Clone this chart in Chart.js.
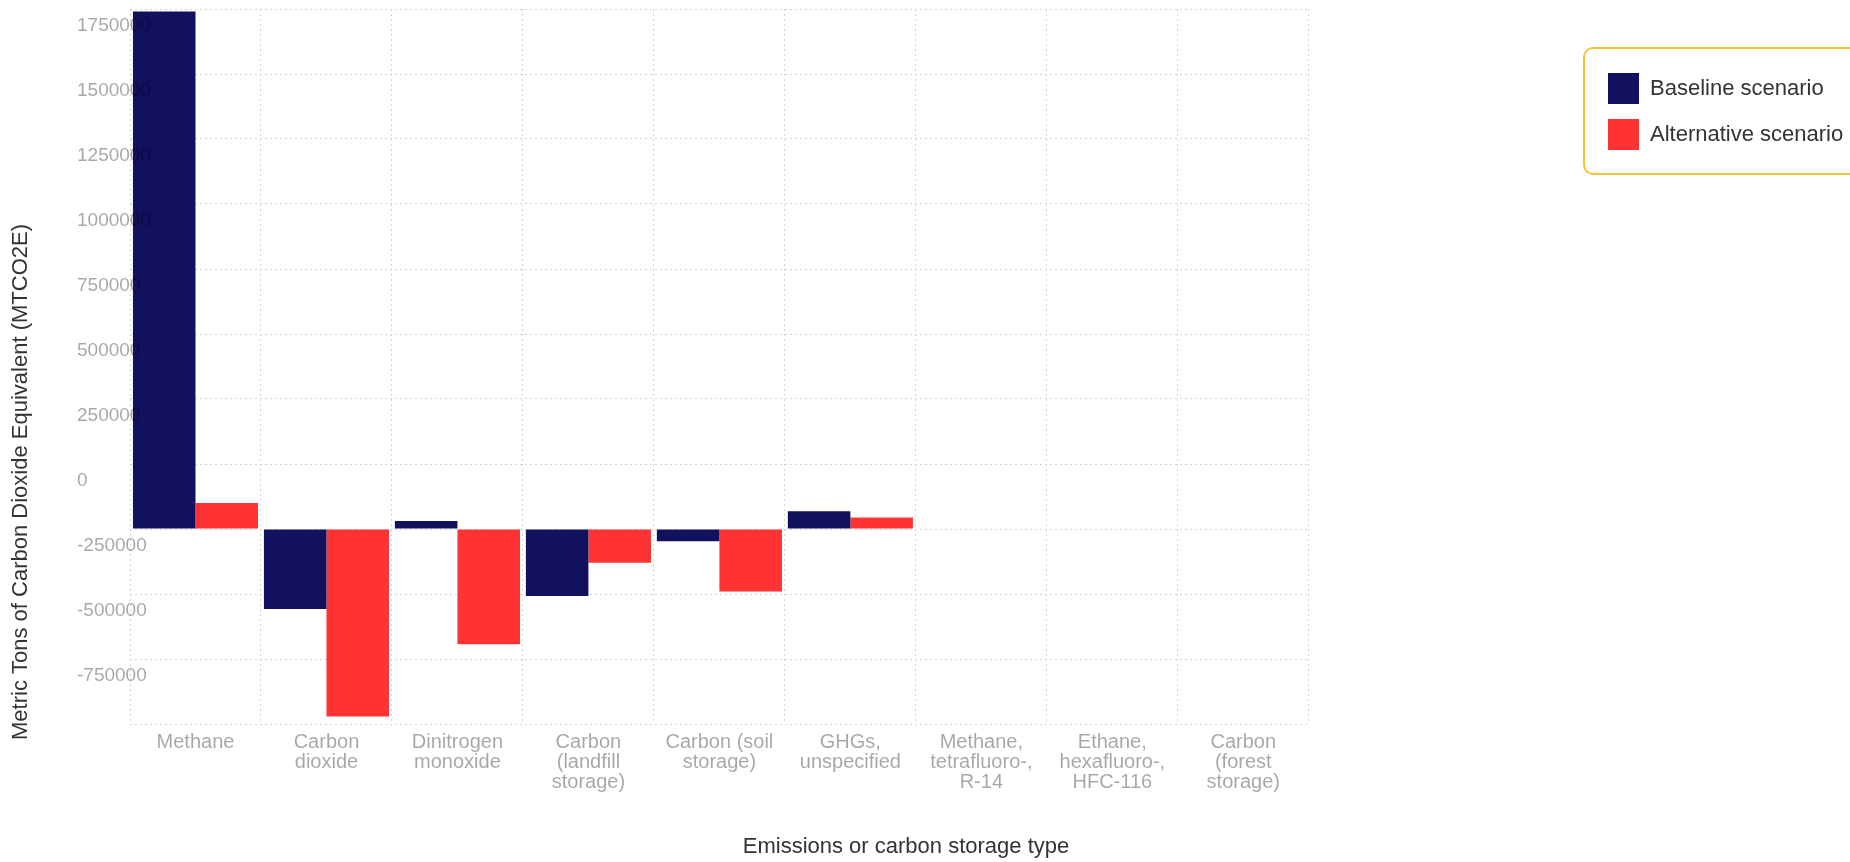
<!DOCTYPE html>
<html>
<head>
<meta charset="utf-8">
<script src="https://cdn.jsdelivr.net/npm/chart.js@4"></script>
<style>
  html, body { margin: 0; padding: 0; background: #fff; }
  #wrap { width: 1850px; height: 862px; }
</style>
</head>
<body>
<div id="wrap"><canvas id="chart" width="1850" height="862"></canvas></div>
<script>
const categories = [
  ['Methane'],
  ['Carbon', 'dioxide'],
  ['Dinitrogen', 'monoxide'],
  ['Carbon', '(landfill', 'storage)'],
  ['Carbon (soil', 'storage)'],
  ['GHGs,', 'unspecified'],
  ['Methane,', 'tetrafluoro-,', 'R-14'],
  ['Ethane,', 'hexafluoro-,', 'HFC-116'],
  ['Carbon', '(forest', 'storage)']
];
const baselineValues = [1740000, -558000, -219000, -508000, -297000, -182000, null, null, null];
const alternativeValues = [-150000, -971000, -693000, -380000, -490000, -206000, null, null, null];
const barBase = -250000;
const yMin = -1000000;
const yMax = 1750000;
const yStep = 250000;

const FONT = '"Liberation Sans", Arial, sans-serif';
const tickColor = 'rgba(0, 0, 10, 0.35)';

// axis titles + legend frame, placed like the original page
const decorations = {
  id: 'decorations',
  beforeDraw(chart) {
    const lg = chart.legend;
    lg.left = 1593; lg.right = 1850; lg.top = 58; lg.bottom = 862;
  },
  afterDraw(chart) {
    const ctx = chart.ctx;
    ctx.save();
    ctx.fillStyle = '#333';
    ctx.font = '22px ' + FONT;
    ctx.textAlign = 'center';
    ctx.textBaseline = 'middle';
    ctx.fillText('Emissions or carbon storage type', 906, 847);
    ctx.translate(21, 482);
    ctx.rotate(-Math.PI / 2);
    ctx.fillText('Metric Tons of Carbon Dioxide Equivalent (MTCO2E)', 0, 0);
    ctx.restore();

    ctx.save();
    ctx.strokeStyle = '#f2c43c';
    ctx.lineWidth = 2;
    ctx.beginPath();
    ctx.roundRect(1584, 48, 300, 126, 9);
    ctx.stroke();
    ctx.restore();
  }
};

new Chart(document.getElementById('chart'), {
  type: 'bar',
  data: {
    labels: categories,
    datasets: [{
      label: 'Baseline scenario',
      data: baselineValues,
      base: barBase,
      backgroundColor: '#12115e',
      borderWidth: 0
    }, {
      label: 'Alternative scenario',
      data: alternativeValues,
      base: barBase,
      backgroundColor: '#ff3333',
      borderWidth: 0
    }]
  },
  options: {
    responsive: false,
    animation: false,
    layout: { padding: { top: 9, left: 0, bottom: 0, right: 281 } },
    datasets: { bar: { categoryPercentage: 0.955, barPercentage: 1.0 } },
    plugins: {
      legend: {
        position: 'right',
        align: 'start',
        labels: {
          boxWidth: 31,
          boxHeight: 31,
          padding: 15,
          color: '#333',
          font: { family: FONT, size: 22 }
        }
      },
      tooltip: { enabled: false }
    },
    scales: {
      x: {
        grid: { color: '#d4d4d4', drawTicks: false },
        border: { display: false, dash: [2, 3] },
        ticks: {
          color: tickColor,
          padding: 8,
          maxRotation: 0,
          autoSkip: false,
          font: { family: FONT, size: 20, lineHeight: 1.0 }
        },
        afterFit(s) { s.height = 138; }
      },
      y: {
        min: yMin,
        max: yMax,
        grid: { color: '#d4d4d4', drawTicks: false },
        border: { display: false, dash: [2, 3] },
        ticks: {
          z: 1,
          stepSize: yStep,
          color: tickColor,
          mirror: true,
          padding: -53,
          crossAlign: 'near',
          labelOffset: 17,
          font: { family: FONT, size: 19, lineHeight: 1.0 },
          callback: v => (v === yMin ? '' : String(v))
        },
        afterFit(s) { s.width = 130; }
      }
    }
  },
  plugins: [decorations]
});
</script>
</body>
</html>
